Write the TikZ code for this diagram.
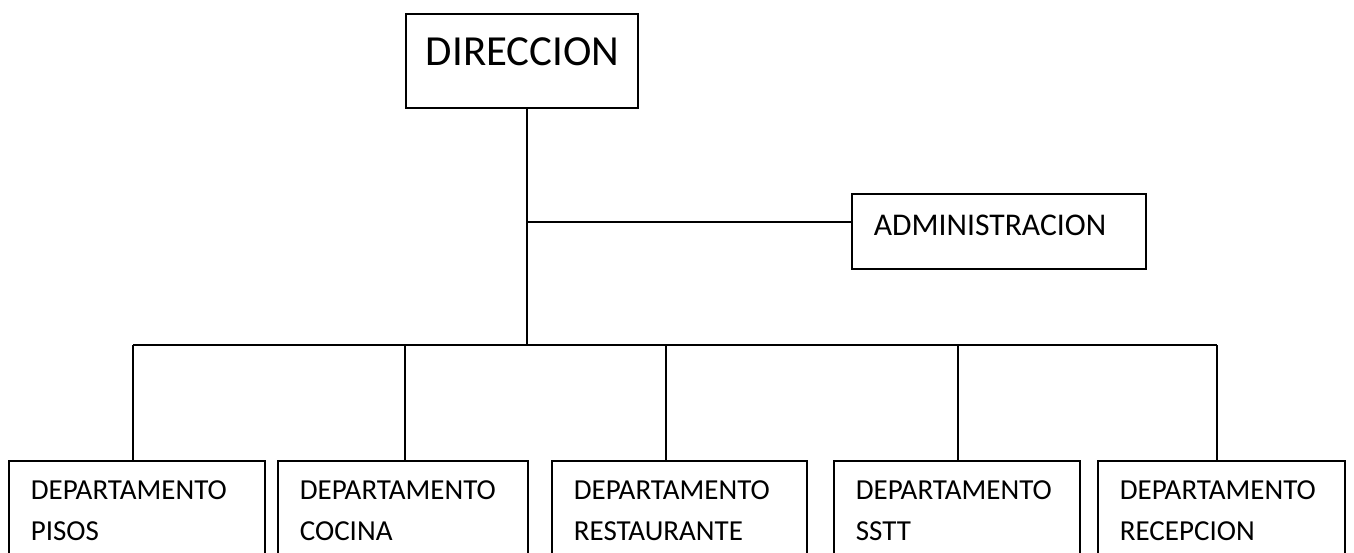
\documentclass[tikz,border=0pt]{standalone}
\usepackage{fontspec}
\setmainfont{Carlito}
\usetikzlibrary{positioning}

\begin{document}
\begin{tikzpicture}[x=0.02cm,y=-0.02cm,line width=1pt]
  \tikzstyle{box}=[draw,anchor=north west,inner ysep=0pt,inner xsep=0.44cm,align=left]
  \tikzstyle{dept}=[box,font=\fontsize{16.5}{23.3}\selectfont,text height=0.78cm,text depth=2.4cm]

  \clip (0,0) rectangle (1354,552);

  \node[box,inner xsep=0.4cm,text width=3.84cm,font=\fontsize{24.4}{28}\selectfont,
        text height=1.04cm,text depth=0.84cm] (dir) at (405,13) {DIRECCION};
  \node[box,text width=5cm,font=\fontsize{18}{22}\selectfont,
        text height=0.84cm,text depth=0.66cm] (adm) at (851,193) {ADMINISTRACION};

  \node[dept,text width=4.24cm] (pisos) at (8,460) {DEPARTAMENTO\\PISOS};
  \node[dept,text width=4.12cm] (cocina) at (277,460) {DEPARTAMENTO\\COCINA};
  \node[dept,text width=4.22cm] (rest) at (551,460) {DEPARTAMENTO\\RESTAURANTE};
  \node[dept,text width=4.04cm] (sstt) at (833,460) {DEPARTAMENTO\\SSTT};
  \node[dept,text width=4.06cm] (recep) at (1097,460) {DEPARTAMENTO\\RECEPCION};

  \coordinate (trunk) at (527,345);
  \coordinate (joint) at (527,222);
  \draw (dir.south -| trunk) -- (trunk);
  \draw (joint) -- (joint -| adm.west);

  \draw (133,345) coordinate (busl) -- (1217,345) coordinate (busr);
  \foreach \n/\x in {pisos/133,cocina/405,rest/666,sstt/958,recep/1217}{
    \coordinate (d\n) at (\x,345);
    \draw (d\n) -- (d\n |- \n.north);
  }

\end{tikzpicture}
\end{document}
